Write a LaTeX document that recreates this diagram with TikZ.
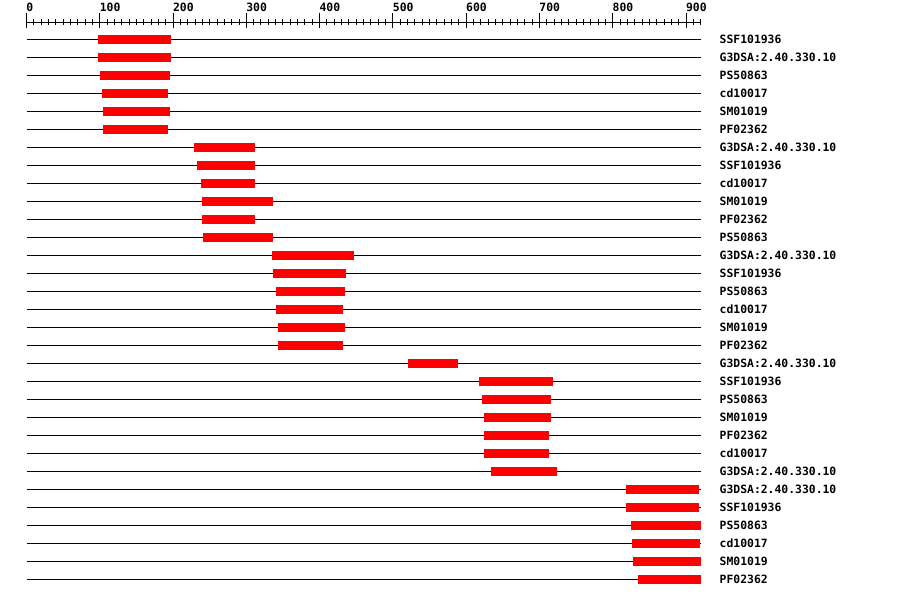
\documentclass[tikz,border=0pt]{standalone}
\usepackage{fontspec}
\newfontfamily\monofont{DejaVu Sans Mono}
\begin{document}
\begin{tikzpicture}[x=1pt, y=-1pt,
		lbl/.style={anchor=base west, inner sep=0pt, outer sep=0pt, font=\monofont\bfseries\fontsize{11.4}{12}\selectfont},
		hit/.style={fill=red}]
	\useasboundingbox (0,0) rectangle (900,598);
	\begin{scope}[xshift=26.5pt, x=0.7328pt]
		% ruler
		\draw[line width=1pt] (0,22) coordinate (rul0) -- (920,22) coordinate (rulend);
		\foreach \t in {0, 10, ..., 920}
			{
				\draw[line width=1pt] (\t,19) -- (\t,25);
			}
		\foreach \t in {0, 100, ..., 900}
			{
				\draw[line width=1pt] (\t,13.3) -- (\t,28);
				\node[lbl] (tick\t) at (\t,11) {\t};
			}
		% domain hits
		\foreach \lab/\s/\e [count = \r] in {
				SSF101936/98/197, {G3DSA:2.40.330.10}/98/197, PS50863/100/196, cd10017/103/193, SM01019/104/196, PF02362/104/193,
				{G3DSA:2.40.330.10}/229/312, SSF101936/233/312, cd10017/238/312, SM01019/240/336, PF02362/240/312, PS50863/241/336,
				{G3DSA:2.40.330.10}/335/447, SSF101936/336/436, PS50863/340/435, cd10017/340/432, SM01019/343/435, PF02362/343/432,
				{G3DSA:2.40.330.10}/521/589,
				SSF101936/617/718, PS50863/622/716, SM01019/624/716, PF02362/624/713, cd10017/624/713, {G3DSA:2.40.330.10}/634/724,
				{G3DSA:2.40.330.10}/818/918, SSF101936/818/918, PS50863/825/920, cd10017/826/919, SM01019/828/920, PF02362/835/920}
			{
				\pgfmathsetmacro\y{21.3+18*\r}
				\draw[line width=1pt] (0,\y) coordinate (row\r) -- (920,\y) coordinate (end\r);
				\fill[hit] (\s,\y-4.5) rectangle (\e,\y+4.5);
				\node[lbl] (lab\r) at ([xshift=19pt, yshift=-4pt]end\r) {\lab};
			}
	\end{scope}
\end{tikzpicture}
\end{document}
